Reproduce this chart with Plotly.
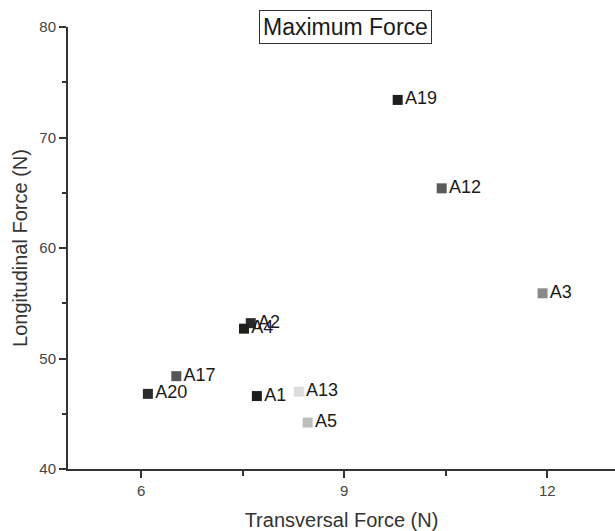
import plotly.graph_objects as go

names = ["A19", "A12", "A3", "A2", "A4", "A17", "A20", "A1", "A13", "A5"]
transversal = [9.79, 10.44, 11.93, 7.62, 7.52, 6.52, 6.10, 7.71, 8.33, 8.46]
longitudinal = [73.4, 65.4, 55.9, 53.2, 52.7, 48.4, 46.8, 46.6, 47.0, 44.2]
colors = ["#1e1e1e", "#5a5a5a", "#8a8a8a", "#2a2a2a", "#1e1e1e", "#555555",
          "#2a2a2a", "#1e1e1e", "#dcdcdc", "#bdbdbd"]

x_ticks = [6, 9, 12]
y_ticks = [40, 50, 60, 70, 80]

fig = go.Figure()
fig.add_trace(go.Scatter(
    x=transversal, y=longitudinal, mode="markers+text",
    text=names, textposition="middle right",
    textfont=dict(family="Liberation Sans, Arial", size=18, color="#1a1a1a"),
    marker=dict(symbol="square", size=10, color=colors, line=dict(width=0)),
    cliponaxis=False, showlegend=False,
))

fig.update_layout(
    width=615, height=531,
    margin=dict(l=68, r=0, t=27, b=62),
    plot_bgcolor="white", paper_bgcolor="white",
    font=dict(family="Liberation Sans, Arial", color="#333333"),
    xaxis=dict(
        range=[4.92, 13.0], tickvals=x_ticks, ticks="outside", ticklen=7,
        tickwidth=1.5, tickcolor="#333", showline=True, linecolor="#333",
        linewidth=2, showgrid=False, zeroline=False, automargin=False,
        tickfont=dict(size=15, color="#444"),
        minor=dict(tickvals=[7.5, 10.5], ticks="outside", ticklen=5,
                   tickcolor="#333", showgrid=False),
        title=dict(text="Transversal Force (N)", font=dict(size=20, color="#333"),
                   standoff=16),
    ),
    yaxis=dict(
        range=[40, 80], tickvals=y_ticks, ticks="outside", ticklen=7,
        tickwidth=1.5, tickcolor="#333", showline=True, linecolor="#333",
        linewidth=2, showgrid=False, zeroline=False, automargin=False,
        tickfont=dict(size=15, color="#444"),
        minor=dict(tickvals=[45, 55, 65, 75], ticks="outside", ticklen=4,
                   tickcolor="#333", showgrid=False),
        title=dict(text="Longitudinal Force (N)", font=dict(size=20, color="#333"),
                   standoff=6),
    ),
    annotations=[dict(
        text="Maximum Force", x=0.507, y=1.0, xref="paper", yref="paper",
        xanchor="center", yanchor="middle", showarrow=False,
        font=dict(size=23, color="#1a1a1a"), bordercolor="#333",
        borderwidth=1, borderpad=3, bgcolor="white",
    )],
)

fig.write_html(
    "out.html",
    config={"displayModeBar": False},
    post_script="document.body.style.margin='0';document.body.style.overflow='hidden';",
)
